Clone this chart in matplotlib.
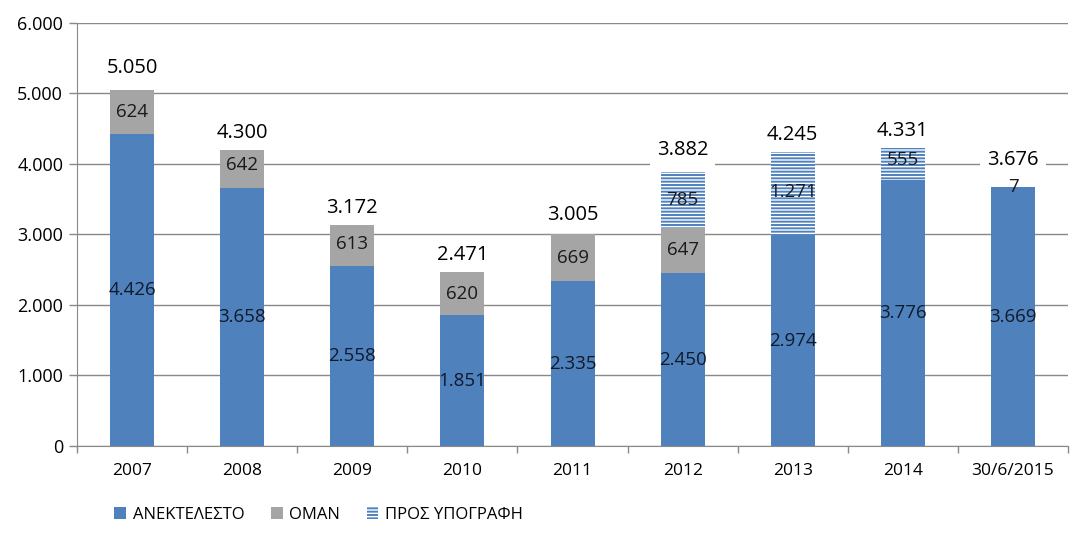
import matplotlib
matplotlib.use("Agg")
import matplotlib.pyplot as plt
from matplotlib.patches import Patch
import numpy as np

plt.rcParams['font.family'] = ['Open Sans', 'DejaVu Sans']
plt.rcParams['hatch.linewidth'] = 1.4
plt.rcParams['hatch.color'] = '#4F81BD'

categories = ["2007", "2008", "2009", "2010", "2011", "2012", "2013", "2014", "30/6/2015"]
anektelesto = [4426, 3658, 2558, 1851, 2335, 2450, 2974, 3776, 3669]
oman = [624, 642, 613, 620, 669, 647, 0, 0, 0]
pros_ypografi = [0, 0, 0, 0, 0, 785, 1271, 555, 7]
totals = [5050, 4300, 3172, 2471, 3005, 3882, 4245, 4331, 3676]

# how far (px) above the bar top each total sits
total_offsets = [22, 10, 14, 17, 19, 22, 12, 10, 27]


def fmt(v):
    return f"{v:,}".replace(",", ".")


fig = plt.figure(figsize=(10.91, 5.45), dpi=100)
ax = fig.add_axes([0.0706, 0.1817, 0.9084, 0.7761])

x = np.arange(len(categories))
w = 0.4
blue = '#4F81BD'
gray = '#A5A5A5'

a = np.array(anektelesto)
o = np.array(oman)
p = np.array(pros_ypografi)

ax.bar(x, a, w, color=blue, zorder=2)
ax.bar(x, o, w, bottom=a, color=gray, zorder=2)
ax.bar(x, p, w, bottom=a + o, color='white', hatch='-----', edgecolor=blue,
       linewidth=0, zorder=2)

for i in range(len(x)):
    ax.text(x[i], a[i] / 2, fmt(a[i]), ha='center', va='center', fontsize=13.5,
            color='#0f1a2a', zorder=4)
    if o[i] > 0:
        ax.text(x[i], a[i] + o[i] / 2, fmt(o[i]), ha='center', va='center',
                fontsize=13.5, color='#1a1a1a', zorder=4)
    if p[i] > 0:
        ax.text(x[i], a[i] + o[i] + p[i] / 2, fmt(p[i]), ha='center', va='center',
                fontsize=13.5, color='#1a1a1a', zorder=4)
    top = a[i] + o[i] + p[i]
    ax.annotate(fmt(totals[i]), (x[i], top), xytext=(0, total_offsets[i] * 0.72),
                textcoords='offset points', ha='center', va='center', fontsize=14.5,
                color='black', zorder=5,
                bbox=dict(boxstyle='square,pad=0.35', fc='white', ec='none'))

ax.set_ylim(0, 6000)
ax.set_xlim(-0.5, len(categories) - 0.5)
ax.set_yticks(range(0, 6001, 1000))
ax.set_yticklabels([fmt(v) for v in range(0, 6001, 1000)], fontsize=13)
ax.set_xticks(x)
ax.set_xticklabels(categories, fontsize=12.5)
ax.set_xticks(np.arange(-0.5, len(categories), 1), minor=True)
ax.tick_params(axis='x', which='major', length=0, pad=12)
ax.tick_params(axis='x', which='minor', length=5, color='#898989', width=1)
ax.tick_params(axis='y', length=6, color='#898989', width=1, pad=4)

ax.yaxis.grid(True, color='#898989', linewidth=1, zorder=0)
ax.set_axisbelow(True)
for s in ['top', 'right']:
    ax.spines[s].set_visible(False)
ax.spines['left'].set_color('#898989')
ax.spines['bottom'].set_color('#898989')

handles = [Patch(facecolor=blue, label='ΑΝΕΚΤΕΛΕΣΤΟ'),
           Patch(facecolor=gray, label='ΟΜΑΝ'),
           Patch(facecolor='white', hatch='-----', edgecolor=blue, linewidth=0,
                 label='ΠΡΟΣ ΥΠΟΓΡΑΦΗ')]
fig.legend(handles=handles, loc='center', bbox_to_anchor=(0.292, 0.055), ncol=3,
           frameon=False, fontsize=12, handlelength=0.7, handleheight=0.7,
           handletextpad=0.4, columnspacing=1.6)

fig.savefig("out.png", dpi=100)
